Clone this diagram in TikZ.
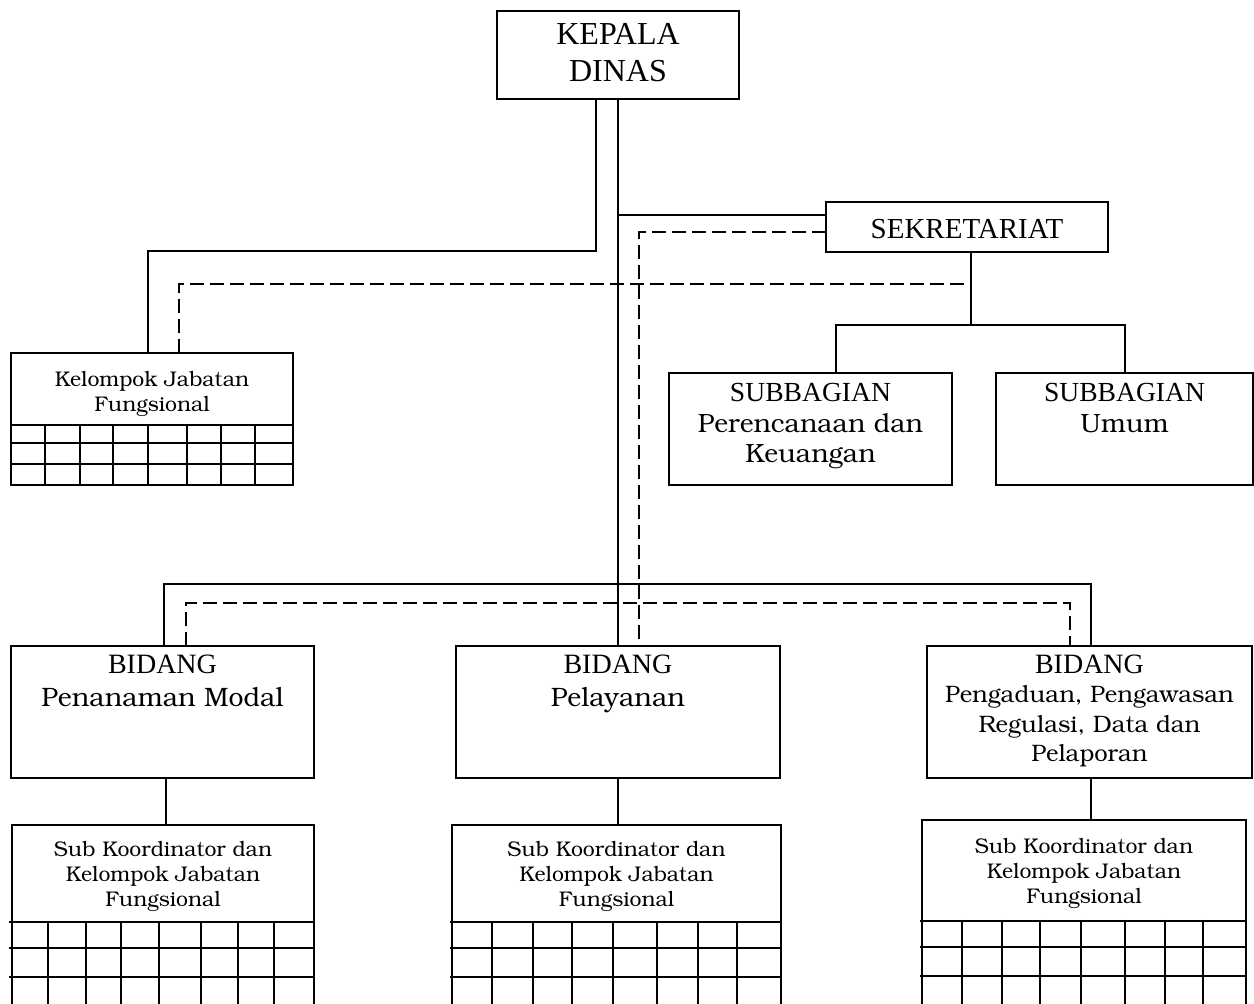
\documentclass[tikz,border=0pt]{standalone}
\usepackage[T1]{fontenc}
\usepackage{fontspec}
\usetikzlibrary{calc}
\newfontfamily\capf{Liberation Serif}
\newcommand\bk{\fontencoding{T1}\fontfamily{pbk}\selectfont}
\tikzset{
  box/.style={draw, line width=1.1pt, inner sep=0pt, outer sep=0pt, anchor=north west},
  ln/.style={line width=0.9pt},
  dl/.style={line width=0.9pt, dash pattern=on 7pt off 3pt},
  gr/.style={line width=1pt},
  txt/.style={inner sep=0pt, outer sep=0pt, align=center, anchor=base},
}
\begin{document}
\begin{tikzpicture}[x=0.5pt,y=-0.5pt]
\clip (0,0) rectangle (1254,1004);
\fill[white] (0,0) rectangle (1254,1004);

% boxes
\node[box, minimum width=121pt, minimum height=44pt] (kd) at (497,11) {};
\node[box, minimum width=141pt, minimum height=25pt] (sek) at (826,202) {};
\node[box, minimum width=141.5pt, minimum height=56pt] (sp) at (669,373) {};
\node[box, minimum width=128.5pt, minimum height=56pt] (su) at (996,373) {};
\node[box, minimum width=141pt, minimum height=66pt] (kjf) at (11,353) {};
\node[box, minimum width=151.5pt, minimum height=66pt] (bpm) at (11,646) {};
\node[box, minimum width=162pt, minimum height=66pt] (bpl) at (456,646) {};
\node[box, minimum width=162.5pt, minimum height=66pt] (bpd) at (927,646) {};
\node[box, minimum width=151pt, minimum height=95pt] (s1) at (12,825) {};
\node[box, minimum width=164.5pt, minimum height=95pt] (s2) at (452,825) {};
\node[box, minimum width=162pt, minimum height=97pt] (s3) at (922,820) {};

% texts (anchor base = baseline of last line)
\node[txt, font={\capf\fontsize{16}{18.5}\selectfont}] (tkd) at (618,82) {KEPALA\\DINAS};
\node[txt, font={\capf\fontsize{14.5}{16}\selectfont}] (tsek) at (967,239) {SEKRETARIAT};
\node[txt, font={\bk\fontsize{13.2}{15.3}\selectfont}] (tsp) at (810.5,463) {{\capf\fontsize{13.8}{15.3}\selectfont SUBBAGIAN}\\Perencanaan dan\\Keuangan};
\node[txt, font={\bk\fontsize{13.2}{15.5}\selectfont}] (tsu) at (1124.5,433) {{\capf\fontsize{13.8}{15.5}\selectfont SUBBAGIAN}\\Umum};
\node[txt, font={\bk\fontsize{10.6}{12.5}\selectfont}] (tkjf) at (152,412) {Kelompok Jabatan\\Fungsional};
\node[txt, font={\bk\fontsize{13.3}{16.5}\selectfont}] (tbpm) at (162.5,707) {{\capf\fontsize{14}{16.5}\selectfont BIDANG}\\Penanaman Modal};
\node[txt, font={\bk\fontsize{13.3}{16.5}\selectfont}] (tbpl) at (618,707) {{\capf\fontsize{14}{16.5}\selectfont BIDANG}\\Pelayanan};
\node[txt, font={\bk\fontsize{11.9}{14.8}\selectfont}] (tbpd) at (1089.5,762) {{\capf\fontsize{14}{14.8}\selectfont BIDANG}\\Pengaduan, Pengawasan\\Regulasi, Data dan\\Pelaporan};
\node[txt, font={\bk\fontsize{10.6}{12.5}\selectfont}] (ts1) at (163,907) {Sub Koordinator dan\\Kelompok Jabatan\\Fungsional};
\node[txt, font={\bk\fontsize{10.6}{12.5}\selectfont}] (ts2) at (616.5,907) {Sub Koordinator dan\\Kelompok Jabatan\\Fungsional};
\node[txt, font={\bk\fontsize{10.6}{12.5}\selectfont}] (ts3) at (1084,904) {Sub Koordinator dan\\Kelompok Jabatan\\Fungsional};

% grids
\foreach \y in {425,443,464} \draw[gr] (11,\y) -- (293,\y);
\foreach \x in {45,80,113,148,187,221,255} \draw[gr] (\x,425) -- (\x,485);
\foreach \y in {922,948,977} \draw[gr] (9,\y) -- (314,\y);
\foreach \x in {48,86,121,159,201,238,274} \draw[gr] (\x,921) -- (\x,1004);
\foreach \y in {922,948,977} \draw[gr] (450,\y) -- (781,\y);
\foreach \x in {492,533,572,613,657,698,737} \draw[gr] (\x,921) -- (\x,1004);
\foreach \y in {921,947,976} \draw[gr] (920,\y) -- (1246,\y);
\foreach \x in {962,1002,1040,1081,1125,1165,1203} \draw[gr] (\x,920) -- (\x,1004);

% connectors
\coordinate (kdL) at ($(kd.south)+(-22,0)$);
\draw[ln] (kdL) -- ++(0,152) -| ($(kjf.north west)+(137,0)$);
\draw[ln] (kd.south) -- (kd.south |- bpl.north);
\draw[ln] ($(sek.west)+(0,-12)$) -- ($(kd.south |- sek.west)+(0,-12)$);
\draw[dl] ($(sek.west)+(0,5)$) -| ($(bpl.north west)+(183,0)$);
\coordinate (sekB) at ($(sek.south)+(4,0)$);
\draw[ln] (sekB) -- ++(0,73) coordinate (sekJ);
\draw[ln] ($(sp.north west)+(167,0)$) |- (sekJ) -| ($(su.north west)+(129,0)$);
\draw[dl] ($(kjf.north west)+(168,0)$) |- ($(sekB)+(0,32)$);
\draw[ln] ($(bpm.north west)+(153,0)$) -- ++(0,-62) -| ($(bpd.north west)+(164,0)$);
\draw[dl] ($(bpm.north west)+(175,0)$) -- ++(0,-43) -| ($(bpd.north west)+(143,0)$);
\draw[ln] ($(bpm.south west)+(155,0)$) -- ($(s1.north west)+(154,0)$);
\draw[ln] (bpl.south) -- (bpl.south |- s2.north);
\coordinate (bpdS) at ($(bpd.south west)+(164,0)$);
\draw[ln] (bpdS) -- (bpdS |- s3.north);
\end{tikzpicture}
\end{document}
